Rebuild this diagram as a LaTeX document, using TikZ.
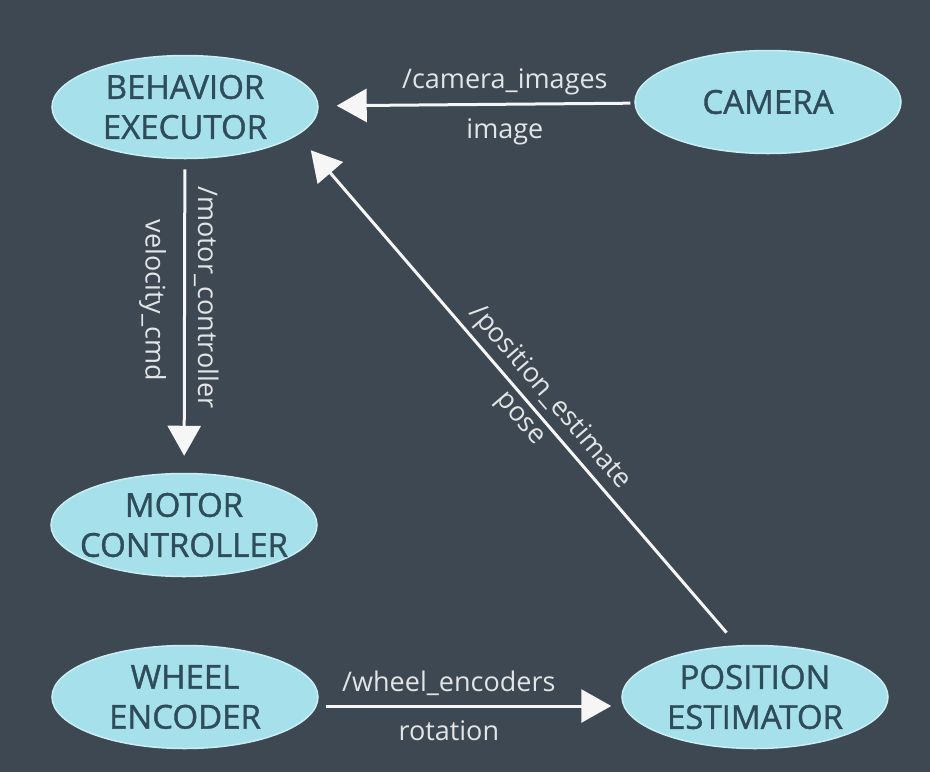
\documentclass[tikz,border=0pt]{standalone}
\usepackage{fontspec}
\setmainfont{Open Sans}
\newfontfamily\nodefont{Open Sans}[FakeBold=1.2]
\usetikzlibrary{shapes.geometric,arrows.meta}
\definecolor{bgslate}{HTML}{3D4852}
\definecolor{nodecyan}{HTML}{A6E1EB}
\definecolor{nodeedge}{HTML}{C9EEF4}
\definecolor{nodetext}{HTML}{2F4C5A}
\definecolor{labelgray}{HTML}{E2E4E6}
\definecolor{arrowwhite}{HTML}{F6F6F6}
\begin{document}
\begin{tikzpicture}[
  x=1pt, y=-1pt,
  rosnode/.style={ellipse, fill=nodecyan, draw=nodeedge, line width=1.5pt,
    minimum width=266pt, minimum height=103pt, inner xsep=-14pt, inner ysep=0pt,
    align=center, text=nodetext, font=\nodefont\fontsize{33}{40}\selectfont},
  topic/.style={-{Triangle[width=33pt,length=30pt]}, draw=arrowwhite, line width=3pt},
  msg/.style={text=labelgray, font=\fontsize{27}{32}\selectfont, inner sep=5pt}
]
  % nền
  \fill[bgslate] (0,0) rectangle (930,772);
  \useasboundingbox (0,0) rectangle (930,772);
  % các nút
  \node[rosnode] (beh)   at (185,107) {BEHAVIOR\\EXECUTOR};
  \node[rosnode] (cam)   at (768,102) {CAMERA};
  \node[rosnode] (motor) at (184,525) {MOTOR\\CONTROLLER};
  \node[rosnode] (wheel) at (185,697) {WHEEL\\ENCODER};
  \node[rosnode] (pos)   at (755,697) {POSITION\\ESTIMATOR};
  % các chủ đề
  \draw[topic, shorten <=4pt, shorten >=18pt] (cam) -- (beh)
    node[msg, pos=0.41, above=3pt] {/camera\_images}
    node[msg, pos=0.41, below=8pt] {image};
  \draw[topic, shorten <=10pt, shorten >=17pt] (beh) -- (motor)
    node[msg, pos=0.44, rotate=-90, anchor=south, inner sep=8pt] {/motor\_controller}
    node[msg, pos=0.45, rotate=-90, anchor=north, inner sep=17pt] {velocity\_cmd};
  \draw[topic, shorten <=7pt, shorten >=10pt] ([yshift=-9pt]wheel.east) -- ([yshift=-9pt]pos.west)
    node[msg, pos=0.43, above=4pt] {/wheel\_encoders}
    node[msg, pos=0.43, below=8pt] {rotation};
  \draw[topic, shorten <=16pt, shorten >=20pt] ([xshift=-18pt]pos.north) -- (beh.-14)
    node[msg, pos=0.46, sloped, anchor=south] {/position\_estimate}
    node[msg, pos=0.465, sloped, anchor=north, inner sep=7pt] {pose};
\end{tikzpicture}
\end{document}
